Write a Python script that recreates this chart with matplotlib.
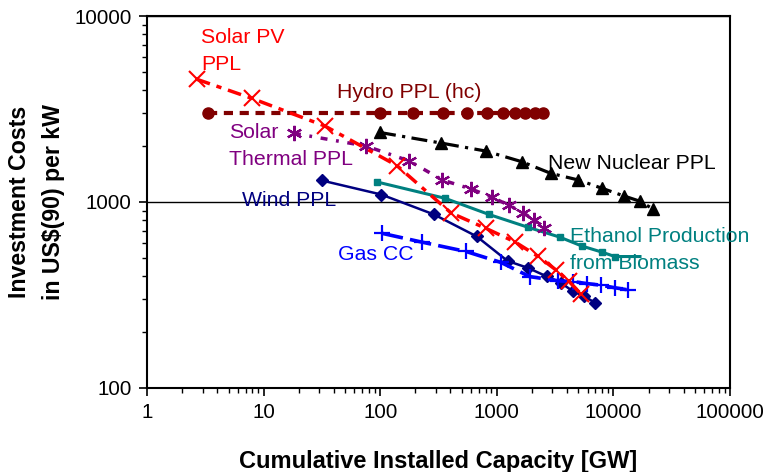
import matplotlib
matplotlib.use("Agg")
import matplotlib.pyplot as plt
from matplotlib.ticker import LogLocator, NullFormatter, FixedLocator, FixedFormatter

plt.rcParams['font.family'] = ['Liberation Sans', 'DejaVu Sans']

# ---- data ----
pv_x = [2.67, 7.9, 33.6, 139, 405, 808, 1432, 2234, 3220, 4160, 5270]
pv_y = [4570, 3610, 2560, 1570, 873, 721, 610, 512, 431, 374, 320]

hydro_x = [3.34, 100, 191, 346, 555, 824, 1130, 1432, 1745, 2127, 2490]
hydro_y = [3000, 3000, 3000, 3000, 3000, 3000, 3000, 3000, 3000, 3000, 3000]

sth_x = [18.2, 75.5, 178, 342, 601, 901, 1260, 1667, 2098, 2540]
sth_y = [2340, 2000, 1660, 1312, 1175, 1063, 963, 877, 800, 725]

nuc_x = [99.6, 332, 800, 1635, 2900, 5000, 7980, 12330, 16900, 21700]
nuc_y = [2364, 2075, 1880, 1647, 1426, 1313, 1185, 1077, 1009, 919]

eth_x = [94, 359, 857, 1853, 3450, 5350, 7940, 10300, 16900]
eth_y = [1281, 1047, 857, 731, 648, 580, 538, 509, 509]
eth_mark = [0, 1, 2, 3, 4, 5, 6, 7]

wind_x = [31.5, 102, 289, 672, 1236, 1852, 2680, 3520, 4460, 5600, 6890]
wind_y = [1305, 1097, 857, 653, 482, 442, 398, 369, 332, 312, 288]

gas_x = [103, 229, 544, 1087, 1915, 3370, 4530, 5990, 7830, 10260, 13270]
gas_y = [679, 608, 542, 473, 397, 377, 373, 364, 357, 346, 337]

x_ticks = [1, 10, 100, 1000, 10000, 100000]
x_labels = ['1', '10', '100', '1000', '10000', '100000']
y_ticks = [100, 1000, 10000]
y_labels = ['100', '1000', '10000']

RED = '#FF0000'
HYD = '#800000'
PUR = '#800080'
TEAL = '#008080'
NAVY = '#000080'
BLUE = '#0000FF'

fig = plt.figure(figsize=(7.69, 4.72), dpi=100)
ax = fig.add_axes([0.1912, 0.178, 0.7581, 0.7881])
ax.set_xscale('log')
ax.set_yscale('log')
ax.set_xlim(1, 100000)
ax.set_ylim(100, 10000)

ax.plot(hydro_x, hydro_y, color=HYD, lw=3.0, linestyle=(0, (2.2, 1.6)),
        marker='o', ms=8, mec=HYD, mfc=HYD, zorder=3)
ax.plot(nuc_x, nuc_y, color='black', lw=2.3, linestyle=(0, (5, 2, 1, 2)),
        marker='^', ms=9, mec='black', mfc='black', zorder=3)
ax.plot(eth_x, eth_y, color=TEAL, lw=2.2, linestyle='-',
        marker='s', ms=5, markevery=eth_mark, mec=TEAL, mfc=TEAL, zorder=3)
ax.plot(sth_x, sth_y, color=PUR, lw=2.5, linestyle=(0, (2, 2.5, 0.8, 2.5)),
        marker=(6, 2, 0), ms=11, mew=1.6, mec=PUR, zorder=4)
ax.plot(wind_x, wind_y, color=NAVY, lw=1.8, linestyle='-',
        marker='D', ms=6.5, mec=NAVY, mfc=NAVY, zorder=4)
ax.plot(gas_x, gas_y, color=BLUE, lw=2.6, linestyle=(0, (6, 2)),
        marker='+', ms=11, mew=1.6, mec=BLUE, zorder=4)
ax.plot(pv_x, pv_y, color=RED, lw=2.5, linestyle=(0, (4, 2, 1.5, 2)),
        marker='x', ms=11, mew=1.5, mec=RED, zorder=5)

# labels
fs = 15.3
def lbl(px, py, s, c):
    ax.text(px / 769, 1 - py / 472, s, color=c, fontsize=fs,
            transform=fig.transFigure, ha='left', va='center', linespacing=1.5)

lbl(201, 51, 'Solar PV\nPPL', RED)
lbl(337, 93, 'Hydro PPL (hc)', HYD)
lbl(229, 146, 'Solar\nThermal PPL', PUR)
lbl(548, 163, 'New Nuclear PPL', 'black')
lbl(242, 200, 'Wind PPL', NAVY)
lbl(338, 254, 'Gas CC', BLUE)
lbl(570, 250, 'Ethanol Production\nfrom Biomass', TEAL)

ax.xaxis.set_major_locator(FixedLocator(x_ticks))
ax.xaxis.set_major_formatter(FixedFormatter(x_labels))
ax.xaxis.set_minor_locator(LogLocator(base=10, subs=range(2, 10)))
ax.xaxis.set_minor_formatter(NullFormatter())
ax.yaxis.set_major_locator(FixedLocator(y_ticks))
ax.yaxis.set_major_formatter(FixedFormatter(y_labels))
ax.yaxis.set_minor_locator(LogLocator(base=10, subs=range(2, 10)))
ax.yaxis.set_minor_formatter(NullFormatter())

ax.tick_params(which='major', direction='out', length=6, width=1.2,
               labelsize=14.8, colors='black', pad=5)
ax.tick_params(which='minor', direction='out', length=3.5, width=1.0)
ax.tick_params(axis='x', pad=5)

ax.grid(True, which='major', axis='y', color='black', lw=1.0)
for sp in ax.spines.values():
    sp.set_linewidth(1.5)
    sp.set_color('black')

ax.set_xlabel('Cumulative Installed Capacity [GW]', fontsize=17, fontweight='bold', labelpad=20)
ax.set_ylabel('Investment Costs\nin US$(90) per kW', fontsize=16.7, fontweight='bold',
              linespacing=1.6, labelpad=7)

fig.savefig('out.png', dpi=100)
